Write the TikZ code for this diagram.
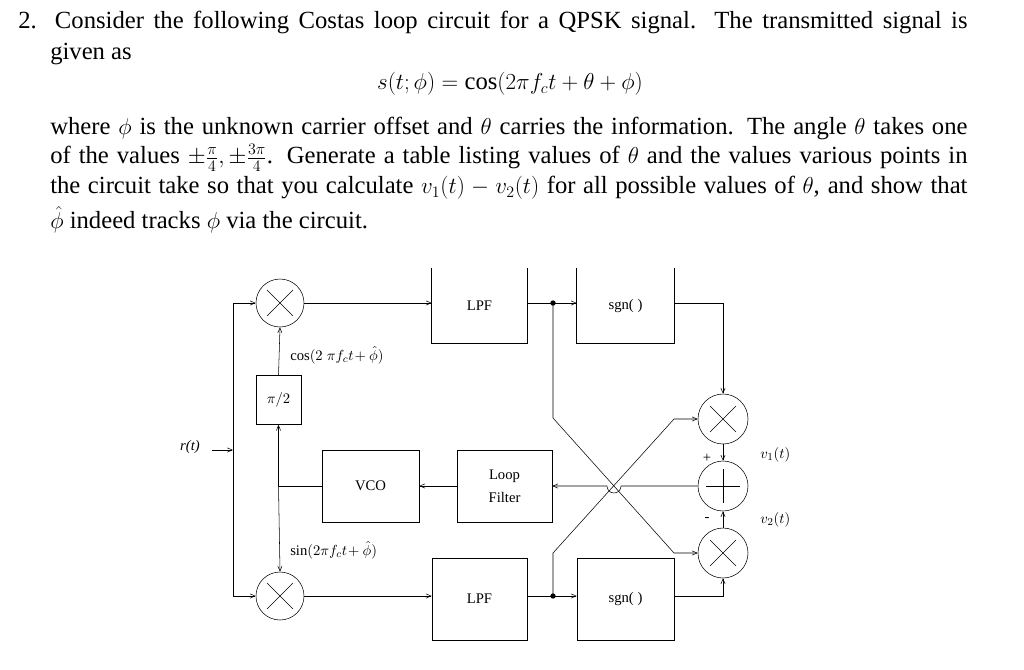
\documentclass[tikz,border=0pt]{standalone}
\usepackage{amsmath}
\usepackage{fontspec}
\setmainfont{Liberation Serif}
\usetikzlibrary{positioning, arrows}
\tikzset{
>=angle 45, % thin open arrow heads
block/.style={draw, rectangle, inner sep=0pt, font=\fontsize{11}{13}\selectfont},
openblock/.style={rectangle, inner sep=0pt, font=\fontsize{11}{13}\selectfont}, % sides drawn by hand
mult/.style={draw, circle, minimum size=36pt, inner sep=0pt,
  path picture={\draw[shift={(path picture bounding box.center)}] (-13,-13) -- (13,13) (-13,13) -- (13,-13);}},
bigmult/.style={mult, minimum size=37.5pt},
adder/.style={draw, circle, minimum size=37.5pt, inner sep=0pt,
  path picture={\draw[shift={(path picture bounding box.center)}] (-17,0) -- (17,0) (0,-17) -- (0,17);}},
dot/.style={circle, fill, inner sep=0pt, minimum size=4pt},
txt/.style={anchor=west, inner sep=0pt, font=\fontsize{18.5}{22}\selectfont},
lbl/.style={inner sep=0pt, font=\fontsize{11}{13}\selectfont},
}
\begin{document}
\begin{tikzpicture}[x=0.75pt, y=-0.75pt]
  \useasboundingbox (0,0) rectangle (1024,669);

  % Problem text
  \node[txt] (l1) at (18,22) {\makebox[712pt][s]{2. Consider the following Costas loop circuit for a QPSK signal. The transmitted signal is}};
  \node[txt] (l2) at (50,54) {given as};
  \node[txt, anchor=center] (l3) at (510,84) {$s(t;\phi)=\cos(2\pi f_c t+\theta+\phi)$};
  \node[txt] (l4) at (50,128) {\makebox[688pt][s]{where $\phi$ is the unknown carrier offset and $\theta$ carries the information. The angle $\theta$ takes one}};
  \node[txt] (l5) at (50,158) {\makebox[688pt][s]{of the values $\pm\frac{\pi}{4},\pm\frac{3\pi}{4}$. Generate a table listing values of $\theta$ and the values various points in}};
  \node[txt] (l6) at (50,188) {\makebox[688pt][s]{the circuit take so that you calculate $v_1(t)-v_2(t)$ for all possible values of $\theta$, and show that}};
  \node[txt] (l7) at (50,220) {$\hat{\phi}$ indeed tracks $\phi$ via the circuit.};

  % Blocks
  \node[mult] (m1) at (280,303) {};
  \node[mult] (m2) at (280,596) {};
  \node[block, minimum width=33.75pt, minimum height=36.75pt] (pi) at (278.5,400) {$\pi/2$};
  \node[block, minimum width=72.75pt, minimum height=54pt] (vco) at (370.5,486) {VCO};
  \node[block, minimum width=71.25pt, minimum height=54pt, align=center] (lf) at (504.5,486) {Loop\\[4pt]Filter};
  \node[openblock, minimum width=71.25pt, minimum height=56.25pt] (lpfA) at (479.5,305.5) {LPF};
  \node[openblock, minimum width=72.75pt, minimum height=56.25pt] (sgnA) at (625.5,305.5) {sgn( )};
  \node[block, minimum width=71.25pt, minimum height=61.5pt] (lpfB) at (479.5,599) {LPF};
  \node[block, minimum width=72.75pt, minimum height=61.5pt] (sgnB) at (625.5,599) {sgn( )};
  \node[bigmult] (r1) at (723,419) {};
  \node[adder] (s) at (723,486) {};
  \node[bigmult] (r2) at (723,553) {};
  \draw (lpfA.north west) |- (lpfA.south east) -- (lpfA.north east);
  \draw (sgnA.north west) |- (sgnA.south east) -- (sgnA.north east);

  % Labels
  \node[lbl, font=\fontsize{11}{13}\selectfont\itshape] (rt) at (190,447) {r(t)};
  \node[lbl, anchor=west] (cosl) at (290,355) {cos$(2\;\pi f_c t\!+\hat{\phi})$};
  \node[lbl, anchor=west] (sinl) at (290,550) {sin$(2\pi f_c t\!+\hat{\phi})$};
  \node[lbl] (plus) at (707,458) {+};
  \node[lbl] (minus) at (707,519) {-};
  \node[lbl, anchor=west] (v1) at (760,455) {$v_1(t)$};
  \node[lbl, anchor=west] (v2) at (760,520) {$v_2(t)$};

  % Connections
  \coordinate (rin) at (233,450);
  \coordinate (tap) at (vco.west -| pi);
  \coordinate (dotA) at (553,303);
  \coordinate (dotB) at (553,596);
  \draw[->] (212,450) -- (rin);
  \draw[->] (rin) |- (m1.west);
  \draw[->] (rin) |- (m2.west);
  \draw[->] (pi.north) -- (m1.south);
  \draw (vco.west) -- (tap);
  \draw[->] (tap) -- (pi.south);
  \draw[->] (tap) -- (m2.north);
  \draw[->] (m1.east) -- (lpfA.west |- m1);
  \draw[->] (m2.east) -- (lpfB.west |- m2);
  \draw (lpfA.east |- m1) -- (dotA);
  \draw (lpfB.east |- m2) -- (dotB);
  \draw[->] (dotA) -- (sgnA.west |- m1);
  \draw[->] (dotB) -- (sgnB.west |- m2);
  \draw[->] (sgnA.east |- m1) -| (r1.north);
  \draw[->] (sgnB.east |- m2) -| (r2.south);
  \draw[->] (dotA) -- (553,418) -- (674,553) -- (r2.west);
  \draw[->] (dotB) -- (553,553) -- (674,419) -- (r1.west);
  \draw[->] (r1.south) -- (s.north);
  \draw[->] (r2.north) -- (s.south);
  \draw[->] (s.west) -- (621,486) arc (0:180:7) -- (lf.east);
  \draw[->] (lf.west) -- (vco.east);
  \node[dot] (da) at (dotA) {};
  \node[dot] (db) at (dotB) {};
\end{tikzpicture}
\end{document}
